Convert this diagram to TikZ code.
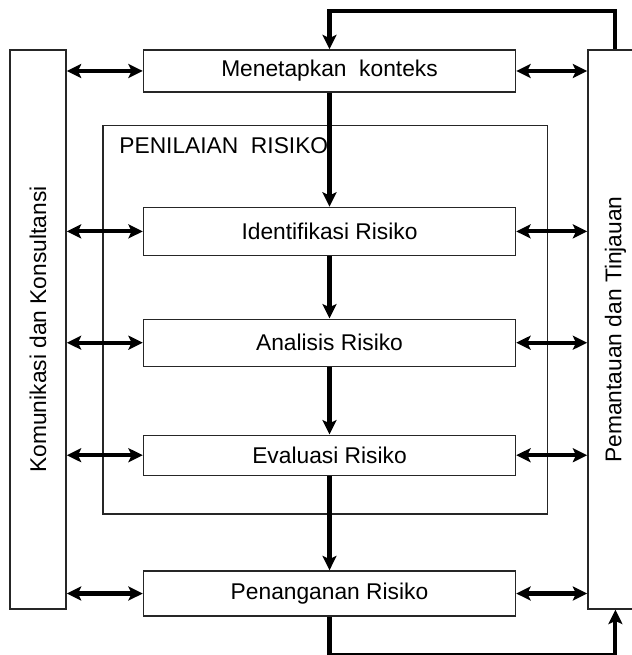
\documentclass[tikz,border=0pt]{standalone}
\usepackage{fontspec}
\setmainfont{Liberation Sans}
\usetikzlibrary{arrows.meta,fit,positioning}

\begin{document}
\begin{tikzpicture}[>={Stealth[length=0.36cm, width=0.35cm, inset=0.08cm]},
    every node/.style={align=center, font=\fontsize{16.2}{19}\selectfont},
    kotak/.style={draw=black!85, line width=1pt, minimum width=9.3cm, inner sep=0pt},
    sisi/.style={draw=black!85, line width=1pt, minimum height=13.975cm, inner sep=0pt},
    panah/.style={line width=2.9pt}]
  \useasboundingbox (0,0) rectangle (15.8,16.375);
  \clip (0,0) rectangle (15.8,16.375);
  \node[kotak, minimum height=1.05cm] (konteks) at (8.2375,14.6) {Menetapkan\ \ konteks};
  \node[kotak, minimum height=1.2cm, below=2.85cm of konteks] (identifikasi) {Identifikasi Risiko};
  \node[kotak, minimum height=1.175cm, below=1.56cm of identifikasi] (analisis) {Analisis Risiko};
  \node[kotak, minimum height=1cm, below=1.69cm of analisis] (evaluasi) {Evaluasi Risiko};
  \node[kotak, minimum height=1.125cm, below=2.36cm of evaluasi] (penanganan) {Penanganan Risiko};
  \node[sisi, minimum width=1.4cm, left=1.9cm of konteks.north west, anchor=north east,
    label={[rotate=90]center:Komunikasi dan Konsultansi}] (kiri) {};
  \node[sisi, minimum width=1.375cm, right=1.775cm of konteks.north east, anchor=north west,
    label={[rotate=90]center:Pemantauan dan Tinjauan}] (kanan) {};
  \coordinate[above left=2.025cm and 1cm of identifikasi.north west] (pkiri);
  \coordinate[below right=0.95cm and 0.775cm of evaluasi.south east] (pkanan);
  \node[draw=black!85, line width=1pt, inner sep=0pt, fit=(pkiri)(pkanan)] (penilaian) {};
  \node[anchor=base west, inner sep=0pt] (judul) at ([xshift=0.425cm, yshift=-0.725cm]penilaian.north west) {PENILAIAN\ \ RISIKO};
  \draw[panah, ->] (konteks) -- (identifikasi);
  \draw[panah, ->] (identifikasi) -- (analisis);
  \draw[panah, ->] (analisis) -- (evaluasi);
  \draw[panah, ->] (evaluasi) -- (penanganan);
  \foreach \n in {konteks,identifikasi,analisis,evaluasi,penanganan} {
    \draw[panah, <->] (kiri.east |- \n) -- (\n);
    \draw[panah, <->] (\n) -- (kanan.west |- \n);
  }
  % umpan balik
  \draw[panah, ->] (kanan.north) |- ([yshift=0.95cm]konteks.north) -- (konteks.north);
  \draw[panah, ->] (penanganan.south) -- ++(0,-0.96) -| (kanan.south);
\end{tikzpicture}
\end{document}
